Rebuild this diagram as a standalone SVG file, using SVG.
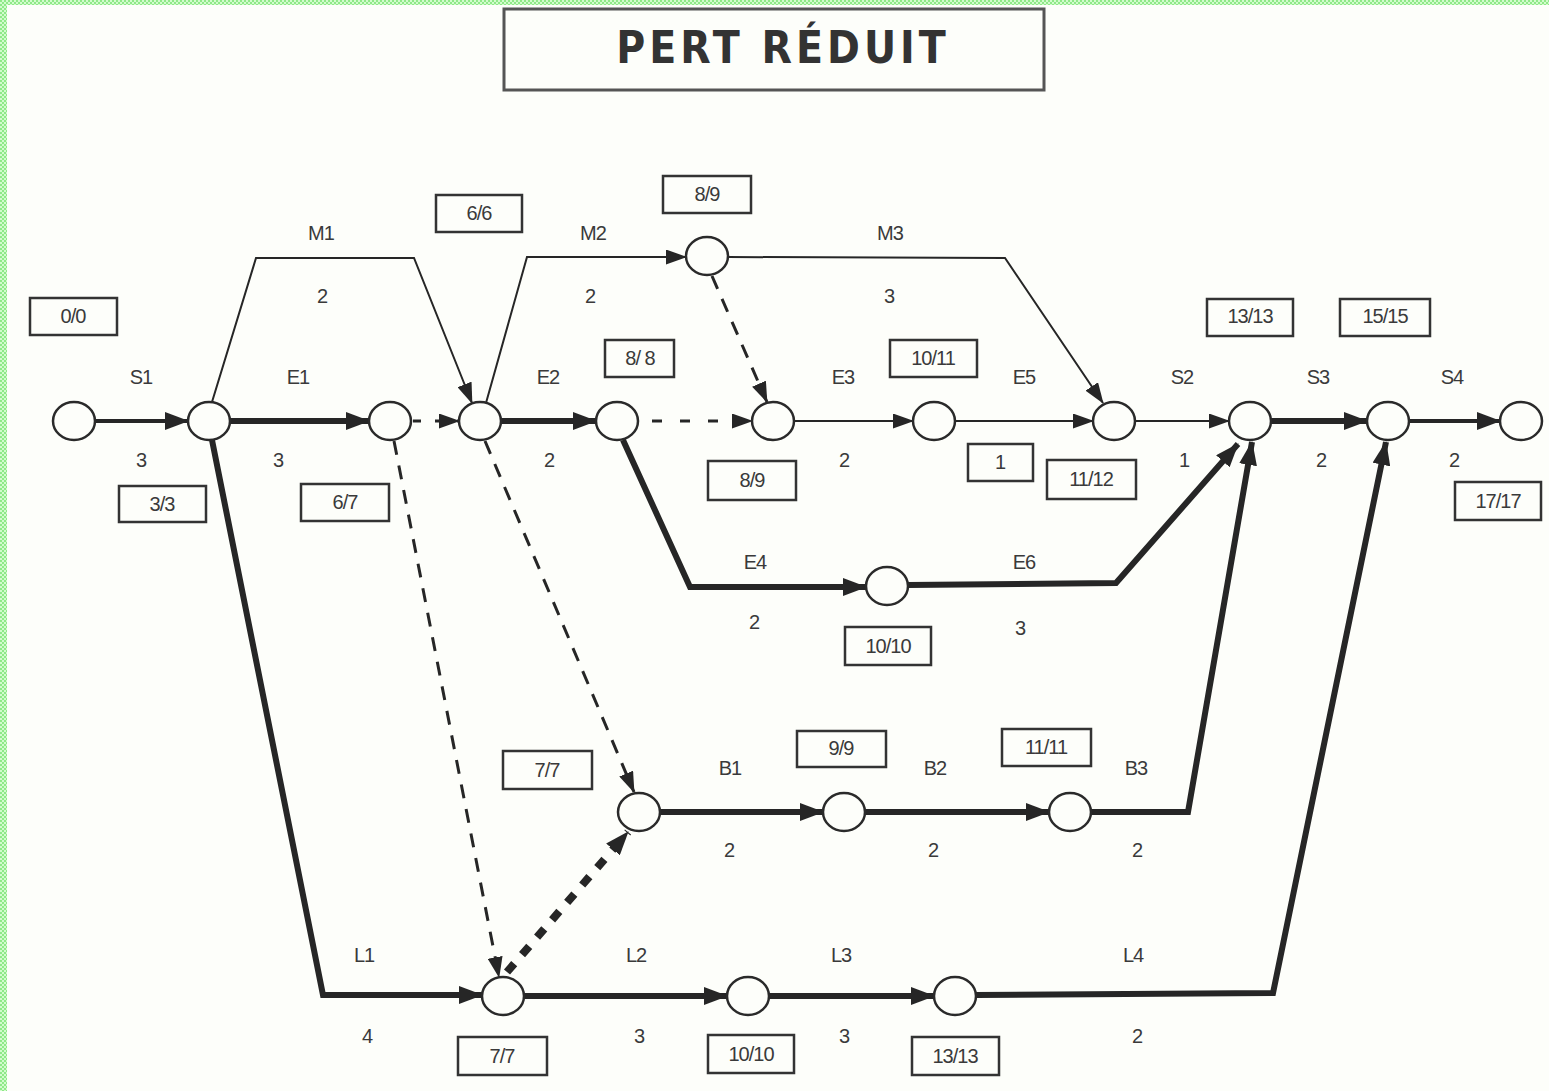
<svg xmlns="http://www.w3.org/2000/svg" width="1549" height="1091" viewBox="0 0 1549 1091">
<style>
.lbl{font-family:"Liberation Sans",Arial,sans-serif;font-size:20px;fill:#3a3a3a;text-anchor:middle;letter-spacing:-1px}
.box rect{fill:none;stroke:#333;stroke-width:2.5}
.node ellipse{fill:#fdfefa;stroke:#2a2a2a;stroke-width:2.5}
.e{fill:none;stroke:#262626;stroke-linejoin:miter}
.thin{stroke-width:2}
.med{stroke-width:4}
.thick{stroke-width:6}
.dash{stroke-width:3;stroke-dasharray:14 11}
</style>
<defs>
<pattern id="chk" width="4" height="4" patternUnits="userSpaceOnUse">
<rect width="4" height="4" fill="#d2fccc"/>
<rect width="2" height="2" fill="#8fe888"/>
<rect x="2" y="2" width="2" height="2" fill="#8fe888"/>
</pattern>
<marker id="ah" markerUnits="userSpaceOnUse" markerWidth="24" markerHeight="18" refX="23" refY="9" orient="auto">
<path d="M0,0 L24,9 L0,18 z" fill="#262626"/>
</marker>
<marker id="ahs" markerUnits="userSpaceOnUse" markerWidth="21" markerHeight="15" refX="20" refY="7.5" orient="auto">
<path d="M0,0 L21,7.5 L0,15 z" fill="#262626"/>
</marker>
</defs>
<rect width="1549" height="1091" fill="#fdfefa"/>
<rect x="0" y="0" width="1549" height="5" fill="url(#chk)"/>
<rect x="0" y="0" width="7" height="1091" fill="url(#chk)"/>

<g id="title">
<rect x="504" y="9" width="540" height="81" fill="none" stroke="#555" stroke-width="3"/>
<text x="783" y="63" font-family="'DejaVu Sans Condensed','DejaVu Sans',sans-serif" font-weight="bold" font-size="44" fill="#333" text-anchor="middle" letter-spacing="4">PERT RÉDUIT</text>
</g>

<g id="connectors">
<path class="e med" d="M95,421 L188,421" marker-end="url(#ah)"/>
<path class="e thick" d="M230,421 L369,421" marker-end="url(#ah)"/>
<path class="e dash" d="M413,421 L459,421" marker-end="url(#ahs)" style="stroke-dasharray:8 14"/>
<path class="e thin" d="M212,402 L256,258 L414,258 L472,403" marker-end="url(#ahs)"/>
<path class="e thin" d="M486,403 L527,257 L686,257" marker-end="url(#ahs)"/>
<path class="e thin" d="M728,257 L1005,258 L1103,403" marker-end="url(#ahs)"/>
<path class="e thick" d="M501,421 L596,421" marker-end="url(#ah)"/>
<path class="e dash" d="M652,421 L752,421" marker-end="url(#ahs)" style="stroke-dasharray:10 18"/>
<path class="e dash" d="M712,276 L767,402" marker-end="url(#ahs)"/>
<path class="e thin" d="M794,421 L913,421" marker-end="url(#ahs)"/>
<path class="e thin" d="M955,421 L1093,421" marker-end="url(#ahs)"/>
<path class="e thin" d="M1135,421 L1229,421" marker-end="url(#ahs)"/>
<path class="e thick" d="M1271,421 L1367,421" marker-end="url(#ah)"/>
<path class="e med" d="M1409,421 L1500,421" marker-end="url(#ah)"/>
<path class="e thick" d="M623,440 L690,587 L866,587" marker-end="url(#ah)"/>
<path class="e thick" d="M908,585 L1116,583 L1238,444" marker-end="url(#ah)"/>
<path class="e thick" d="M1091,812 L1188,812 L1252,442" marker-end="url(#ah)"/>
<path class="e thick" d="M976,995 L1273,993 L1386,442" marker-end="url(#ah)"/>
<path class="e thick" d="M212,440 L323,995 L482,995" marker-end="url(#ah)"/>
<path class="e thick" d="M524,996 L727,996" marker-end="url(#ah)"/>
<path class="e thick" d="M769,996 L934,996" marker-end="url(#ah)"/>
<path class="e thick" d="M660,812 L823,812" marker-end="url(#ah)"/>
<path class="e thick" d="M865,812 L1049,812" marker-end="url(#ah)"/>
<path class="e dash" d="M485,441 L634,792" marker-end="url(#ahs)"/>
<path class="e dash" d="M394,441 L499,977" marker-end="url(#ahs)"/>
<path class="e" d="M507,972 L628,832" stroke-width="8" stroke-dasharray="11 12" marker-end="url(#ah)"/>
</g>

<g id="nodes">
<g id="n0" class="node"><ellipse cx="74" cy="421" rx="21" ry="19"/></g>
<g id="n1" class="node"><ellipse cx="209" cy="421" rx="21" ry="19"/></g>
<g id="n2" class="node"><ellipse cx="390" cy="421" rx="21" ry="19"/></g>
<g id="n3" class="node"><ellipse cx="480" cy="421" rx="21" ry="19"/></g>
<g id="n4" class="node"><ellipse cx="617" cy="421" rx="21" ry="19"/></g>
<g id="n5" class="node"><ellipse cx="707" cy="256" rx="21" ry="19"/></g>
<g id="n6" class="node"><ellipse cx="773" cy="421" rx="21" ry="19"/></g>
<g id="n7" class="node"><ellipse cx="934" cy="421" rx="21" ry="19"/></g>
<g id="n8" class="node"><ellipse cx="1114" cy="421" rx="21" ry="19"/></g>
<g id="n9" class="node"><ellipse cx="1250" cy="421" rx="21" ry="19"/></g>
<g id="n10" class="node"><ellipse cx="1388" cy="421" rx="21" ry="19"/></g>
<g id="n11" class="node"><ellipse cx="1521" cy="421" rx="21" ry="19"/></g>
<g id="n12" class="node"><ellipse cx="887" cy="586" rx="21" ry="19"/></g>
<g id="n13" class="node"><ellipse cx="639" cy="812" rx="21" ry="19"/></g>
<g id="n14" class="node"><ellipse cx="844" cy="812" rx="21" ry="19"/></g>
<g id="n15" class="node"><ellipse cx="1070" cy="812" rx="21" ry="19"/></g>
<g id="n16" class="node"><ellipse cx="503" cy="996" rx="21" ry="19"/></g>
<g id="n17" class="node"><ellipse cx="748" cy="996" rx="21" ry="19"/></g>
<g id="n18" class="node"><ellipse cx="955" cy="996" rx="21" ry="19"/></g>
</g>

<g id="boxes">
<g class="box"><rect x="30" y="298" width="87" height="37"/><text class="lbl" x="73" y="323">0/0</text></g>
<g class="box"><rect x="119" y="486" width="87" height="36"/><text class="lbl" x="162" y="511">3/3</text></g>
<g class="box"><rect x="301" y="484" width="88" height="37"/><text class="lbl" x="345" y="509">6/7</text></g>
<g class="box"><rect x="436" y="195" width="86" height="37"/><text class="lbl" x="479" y="220">6/6</text></g>
<g class="box"><rect x="663" y="176" width="88" height="37"/><text class="lbl" x="707" y="201">8/9</text></g>
<g class="box"><rect x="605" y="340" width="69" height="37"/><text class="lbl" x="640" y="365">8/ 8</text></g>
<g class="box"><rect x="708" y="461" width="88" height="39"/><text class="lbl" x="752" y="487">8/9</text></g>
<g class="box"><rect x="890" y="340" width="87" height="37"/><text class="lbl" x="933" y="365">10/11</text></g>
<g class="box"><rect x="968" y="444" width="65" height="37"/><text class="lbl" x="1000" y="469">1</text></g>
<g class="box"><rect x="1047" y="460" width="89" height="39"/><text class="lbl" x="1091" y="486">11/12</text></g>
<g class="box"><rect x="1207" y="299" width="86" height="37"/><text class="lbl" x="1250" y="323">13/13</text></g>
<g class="box"><rect x="1340" y="299" width="90" height="37"/><text class="lbl" x="1385" y="323">15/15</text></g>
<g class="box"><rect x="1455" y="482" width="86" height="38"/><text class="lbl" x="1498" y="508">17/17</text></g>
<g class="box"><rect x="845" y="627" width="86" height="38"/><text class="lbl" x="888" y="653">10/10</text></g>
<g class="box"><rect x="503" y="751" width="89" height="38"/><text class="lbl" x="547" y="777">7/7</text></g>
<g class="box"><rect x="797" y="731" width="89" height="36"/><text class="lbl" x="841" y="755">9/9</text></g>
<g class="box"><rect x="1002" y="729" width="89" height="37"/><text class="lbl" x="1046" y="754">11/11</text></g>
<g class="box"><rect x="458" y="1037" width="89" height="38"/><text class="lbl" x="502" y="1063">7/7</text></g>
<g class="box"><rect x="708" y="1035" width="86" height="38"/><text class="lbl" x="751" y="1061">10/10</text></g>
<g class="box"><rect x="912" y="1037" width="87" height="38"/><text class="lbl" x="955" y="1063">13/13</text></g>
</g>

<g id="labels">
<text class="lbl" x="141" y="384">S1</text><text class="lbl" x="141" y="467">3</text>
<text class="lbl" x="298" y="384">E1</text><text class="lbl" x="278" y="467">3</text>
<text class="lbl" x="321" y="240">M1</text><text class="lbl" x="322" y="303">2</text>
<text class="lbl" x="593" y="240">M2</text><text class="lbl" x="590" y="303">2</text>
<text class="lbl" x="890" y="240">M3</text><text class="lbl" x="889" y="303">3</text>
<text class="lbl" x="548" y="384">E2</text><text class="lbl" x="549" y="467">2</text>
<text class="lbl" x="843" y="384">E3</text><text class="lbl" x="844" y="467">2</text>
<text class="lbl" x="1024" y="384">E5</text>
<text class="lbl" x="1182" y="384">S2</text><text class="lbl" x="1184" y="467">1</text>
<text class="lbl" x="1318" y="384">S3</text><text class="lbl" x="1321" y="467">2</text>
<text class="lbl" x="1452" y="384">S4</text><text class="lbl" x="1454" y="467">2</text>
<text class="lbl" x="755" y="569">E4</text><text class="lbl" x="754" y="629">2</text>
<text class="lbl" x="1024" y="569">E6</text><text class="lbl" x="1020" y="635">3</text>
<text class="lbl" x="730" y="775">B1</text><text class="lbl" x="729" y="857">2</text>
<text class="lbl" x="935" y="775">B2</text><text class="lbl" x="933" y="857">2</text>
<text class="lbl" x="1136" y="775">B3</text><text class="lbl" x="1137" y="857">2</text>
<text class="lbl" x="364" y="962">L1</text><text class="lbl" x="367" y="1043">4</text>
<text class="lbl" x="636" y="962">L2</text><text class="lbl" x="639" y="1043">3</text>
<text class="lbl" x="841" y="962">L3</text><text class="lbl" x="844" y="1043">3</text>
<text class="lbl" x="1133" y="962">L4</text><text class="lbl" x="1137" y="1043">2</text>
</g>
</svg>
